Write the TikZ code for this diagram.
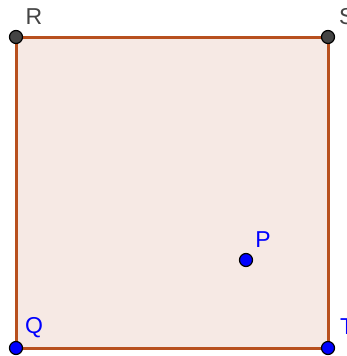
\documentclass[tikz,border=0pt]{standalone}
\usepackage{fontspec}
\setmainfont{Liberation Sans}
\usetikzlibrary{positioning}
\definecolor{edgebrown}{HTML}{B8501E}
\definecolor{facefill}{HTML}{F6E9E4}
\definecolor{ptblue}{HTML}{0000FF}
\definecolor{ptgray}{HTML}{444444}

\begin{document}
\begin{tikzpicture}[x=1pt, y=-1pt,
  vertex/.style={circle, draw=black, line width=1.2pt, inner sep=0pt, minimum size=13pt},
  freept/.style={vertex, fill=ptblue},
  fixpt/.style={vertex, fill=ptgray},
  lbl/.style={inner sep=0pt, font=\fontsize{23}{27}\selectfont},
  side/.style={draw=edgebrown, line width=3pt, line join=miter}
]
  \clip (0,0) rectangle (347,356);
  \useasboundingbox (0,0) rectangle (347,356);

  % corners of the square
  \coordinate (cR) at (16,37);
  \coordinate (cS) at (328,37);
  \coordinate (cT) at (328,348);
  \coordinate (cQ) at (16,348);

  \fill[facefill] (cR) -- (cS) -- (cT) -- (cQ) -- cycle;
  \draw[side] (cR) -- (cS) -- (cT) -- (cQ) -- cycle;

  % points
  \node[fixpt] (R) at (cR) {};
  \node[fixpt] (S) at (cS) {};
  \node[freept] (T) at (cT) {};
  \node[freept] (Q) at (cQ) {};
  \node[freept] (P) at (246,260) {};

  % labels
  \node[lbl, text=ptgray] (labR) at (34,17) {R};
  \node[lbl, text=ptgray, anchor=west] (labS) at (339,17) {S};
  \node[lbl, text=ptblue] (labQ) at (34,328) {Q};
  \node[lbl, text=ptblue, anchor=west] (labT) at (340,327) {T};
  \node[lbl, text=ptblue] (labP) at (263,240) {P};
\end{tikzpicture}
\end{document}
